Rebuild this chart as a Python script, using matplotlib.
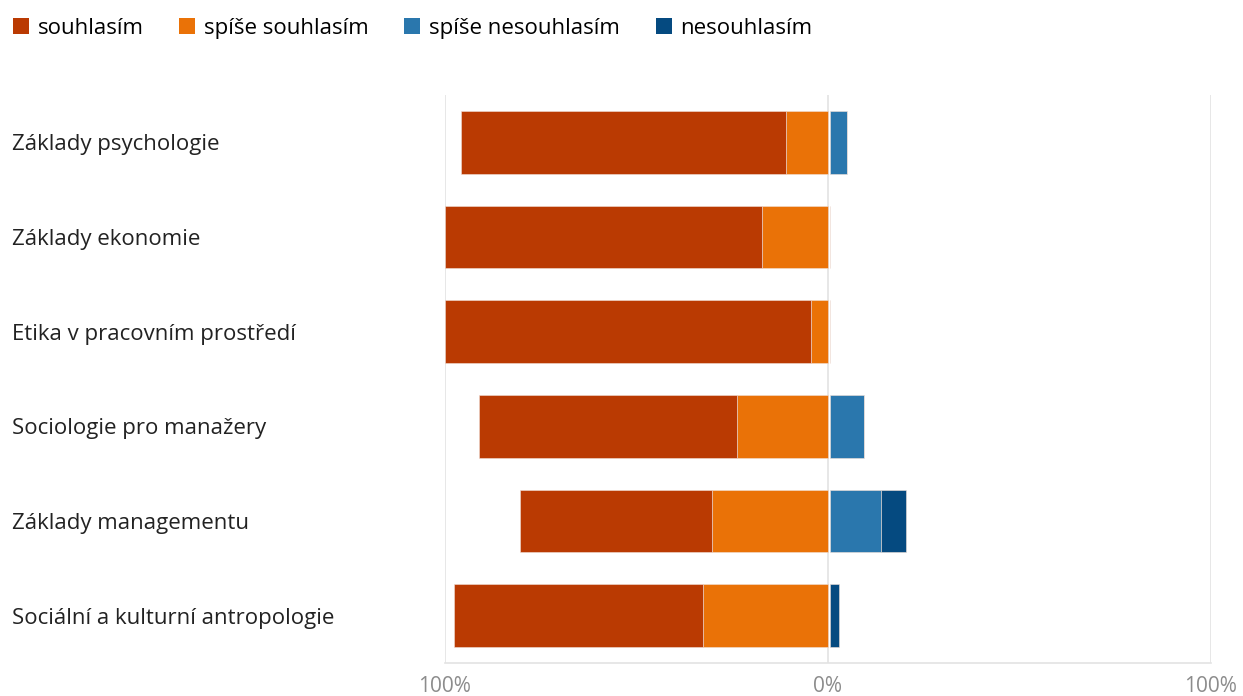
import numpy as np
import matplotlib.pyplot as plt
from matplotlib.patches import Patch
from matplotlib.transforms import blended_transform_factory

plt.rcParams['font.family'] = ['Open Sans', 'DejaVu Sans']

# Data (percent of respondents)
predmety = ['Základy psychologie', 'Základy ekonomie', 'Etika v pracovním prostředí',
            'Sociologie pro manažery', 'Základy managementu',
            'Sociální a kulturní antropologie']
souhlasim = [84.7, 82.8, 95.6, 67.4, 50.0, 65.1]
spise_souhlasim = [11.0, 17.2, 4.4, 23.8, 30.3, 32.6]
spise_nesouhlasim = [4.4, 0.0, 0.0, 8.9, 13.3, 0.0]
nesouhlasim = [0.0, 0.0, 0.0, 0.0, 6.5, 2.3]

kategorie = ['souhlasím', 'spíše souhlasím', 'spíše nesouhlasím', 'nesouhlasím']
barvy = ['#BA3A02', '#EA7207', '#2A77AD', '#054A80']

fig = plt.figure(figsize=(12.43, 6.96), dpi=100)
ax = fig.add_axes([445 / 1243, 33 / 696, 766 / 1243, 568 / 696])

y = np.arange(len(predmety))
s = np.array(souhlasim)
ss = np.array(spise_souhlasim)
sn = np.array(spise_nesouhlasim)
n = np.array(nesouhlasim)

h = 0.66
kw = dict(height=h, edgecolor='#F0E0D8', linewidth=0.4, zorder=3)
# agreement to the left of zero, disagreement to the right
ax.barh(y, -ss, left=0, color=barvy[1], **kw)
ax.barh(y, -s, left=-ss, color=barvy[0], **kw)
ax.barh(y, sn, left=0.5, color=barvy[2], **kw)
ax.barh(y, n, left=0.5 + sn, color=barvy[3], **kw)

ax.set_xlim(-100, 100)
ax.set_ylim(len(predmety) - 0.5, -0.5)
ax.set_xticks([-100, 0, 100])
ax.set_xticklabels(['100%', '0%', '100%'], fontsize=15, color='#8C8C8C')
ax.set_yticks([])
ax.tick_params(axis='x', length=0, pad=9)
ax.grid(axis='x', color='#E3E3E3', linewidth=1.2, zorder=0)
for side in ['top', 'left', 'right']:
    ax.spines[side].set_visible(False)
ax.spines['bottom'].set_color('#E3E3E3')
ax.spines['bottom'].set_linewidth(1.2)

# category labels, left aligned at the figure edge
tr = blended_transform_factory(fig.transFigure, ax.transData)
for i, p in enumerate(predmety):
    ax.text(12 / 1243, i, p, transform=tr, ha='left', va='center_baseline',
            fontsize=16, color='#222222')

handles = [Patch(facecolor=c, edgecolor='none') for c in barvy]
fig.legend(handles, kategorie, loc='upper left', bbox_to_anchor=(-0.006, 1.003),
           ncol=4, frameon=False, fontsize=16, handlelength=0.72,
           handleheight=0.72, handletextpad=0.4, columnspacing=1.6)

plt.savefig('out.png', dpi=100)
plt.close()
